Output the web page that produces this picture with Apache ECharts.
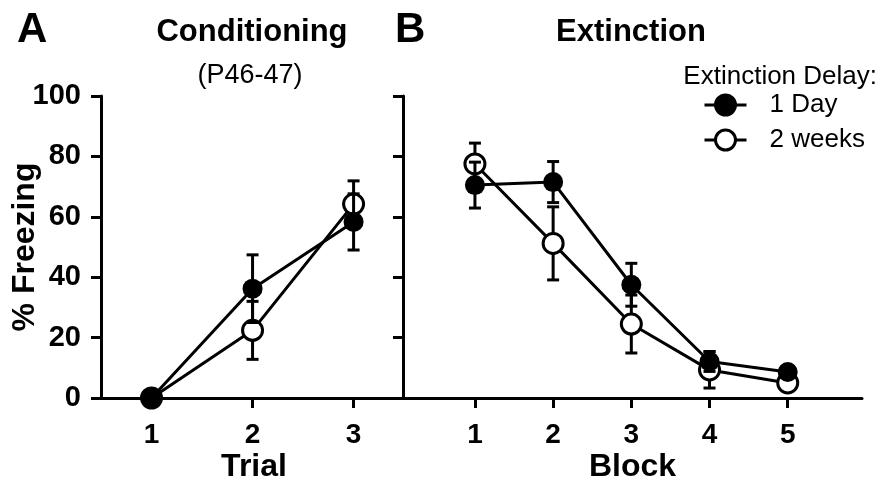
<!DOCTYPE html>
<html>
<head>
<meta charset="utf-8">
<script src="https://cdn.jsdelivr.net/npm/echarts@6/dist/echarts.min.js"></script>
<style>
  html, body { margin: 0; padding: 0; background: #fff; }
  #chart { width: 890px; height: 486px; }
</style>
</head>
<body>
<div id="chart"></div>
<script>
'use strict';
// data
const trials = [1, 2, 3];
const blocks = [1, 2, 3, 4, 5];
const yTicks = [0, 20, 40, 60, 80, 100];

const condDayMean = [0, 36.2, 58.3];
const condDaySem = [0, 11.2, 9.3];
const condWeeksMean = [0, 22.4, 64.2];
const condWeeksSem = [0, 9.6, 7.7];

const extDayMean = [70.5, 71.5, 37.5, 12.1, 8.6];
const extDaySem = [7.6, 6.8, 7.1, 3.3, 1.2];
const extWeeksMean = [77.5, 51.2, 24.5, 9.3, 5.0];
const extWeeksSem = [6.9, 12.1, 9.6, 6.0, 1.0];

const FONT = "'Liberation Sans', Arial, sans-serif";

function points(xs, ys) {
    return xs.map((x, i) => [x, ys[i]]);
}

function bars(xs, ys, sem) {
    return xs.map((x, i) => [x, ys[i] - sem[i], ys[i] + sem[i], sem[i]]);
}

function errorBarItem(params, api) {
    if (api.value(3) === 0) {
        return null;
    }
    const x = api.value(0);
    const lo = api.coord([x, api.value(1)]);
    const hi = api.coord([x, api.value(2)]);
    const half = 6;
    const style = { stroke: '#000', lineWidth: 3 };
    return {
        type: 'group',
        children: [
            { type: 'line', shape: { x1: lo[0], y1: lo[1], x2: hi[0], y2: hi[1] }, style: style },
            { type: 'line', shape: { x1: lo[0] - half, y1: lo[1], x2: lo[0] + half, y2: lo[1] }, style: style },
            { type: 'line', shape: { x1: hi[0] - half, y1: hi[1], x2: hi[0] + half, y2: hi[1] }, style: style },
        ],
    };
}

function xAxisOf(idx, min, max, ticks, name, namePad) {
    return {
        type: 'value',
        gridIndex: idx,
        min: min,
        max: max,
        name: name,
        nameLocation: 'middle',
        nameGap: 53,
        nameMoveOverlap: false,
        nameTextStyle: { fontFamily: FONT, fontSize: 32, fontWeight: 'bold', color: '#000', padding: namePad },
        axisLine: { show: true, lineStyle: { color: '#000', width: 3 } },
        axisTick: { show: true, length: 10, customValues: ticks, lineStyle: { width: 3 } },
        axisLabel: { customValues: ticks, margin: 23, fontFamily: FONT, fontSize: 28, fontWeight: 'bold', color: '#000' },
        splitLine: { show: false },
    };
}

function yAxisOf(idx, showLabel) {
    return {
        type: 'value',
        gridIndex: idx,
        min: 0,
        max: 100,
        interval: 20,
        name: showLabel ? '% Freezing' : '',
        nameLocation: 'middle',
        nameGap: 60,
        nameMoveOverlap: false,
        nameTextStyle: { fontFamily: FONT, fontSize: 32, fontWeight: 'bold', color: '#000' },
        axisLine: { show: true, lineStyle: { color: '#000', width: 3 } },
        axisTick: { show: true, length: 10, lineStyle: { width: 3 } },
        axisLabel: { show: showLabel, margin: 20, fontFamily: FONT, fontSize: 29, fontWeight: 'bold', color: '#000' },
        splitLine: { show: false },
    };
}

function lineSeries(name, idx, data, filled, z) {
    return {
        type: 'line',
        name: name,
        xAxisIndex: idx,
        yAxisIndex: idx,
        data: data,
        z: z,
        symbol: 'circle',
        symbolSize: 20,
        lineStyle: { color: '#000', width: 3 },
        itemStyle: filled
            ? { color: '#000', borderColor: '#000', borderWidth: 0 }
            : { color: '#fff', borderColor: '#000', borderWidth: 3 },
        emphasis: { disabled: true },
        animation: false,
    };
}

function errSeries(idx, data, z) {
    return {
        type: 'custom',
        name: 'err',
        xAxisIndex: idx,
        yAxisIndex: idx,
        data: data,
        z: z,
        renderItem: errorBarItem,
        encode: { x: 0, y: [1, 2] },
        animation: false,
    };
}

function init() {
    const chart = echarts.init(document.getElementById('chart'), null, { renderer: 'canvas' });
    const titleStyle = { fontFamily: FONT, fontWeight: 'bold', color: '#000' };
    const option = {
        backgroundColor: '#fff',
        animation: false,
        title: [
            { text: 'A', left: 17, top: 9, padding: 0, textStyle: Object.assign({ fontSize: 42 }, titleStyle) },
            { text: 'B', left: 395, top: 9, padding: 0, textStyle: Object.assign({ fontSize: 42 }, titleStyle) },
            { text: 'Conditioning', left: 252, top: 17, padding: 0, textAlign: 'center', textStyle: Object.assign({ fontSize: 31 }, titleStyle) },
            { text: 'Extinction', left: 631, top: 17, padding: 0, textAlign: 'center', textStyle: Object.assign({ fontSize: 31 }, titleStyle) },
            { text: '(P46-47)', left: 250, top: 62, padding: 0, textAlign: 'center', textStyle: { fontFamily: FONT, fontSize: 27, fontWeight: 'normal', color: '#000' } },
            { text: 'Extinction Delay:', left: 877, top: 64, padding: 0, textAlign: 'right', textStyle: { fontFamily: FONT, fontSize: 26, fontWeight: 'normal', color: '#000' } },
        ],
        legend: {
            data: ['1 Day', '2 weeks'],
            orient: 'vertical',
            left: 703,
            top: 92,
            padding: 0,
            itemWidth: 42,
            itemHeight: 25,
            itemGap: 9,
            lineStyle: { width: 3, color: '#000' },
            itemStyle: { borderWidth: 3, borderColor: '#000' },
            textStyle: { fontFamily: FONT, fontSize: 26, color: '#000', padding: [0, 0, 0, 18] },
            selectedMode: false,
        },
        grid: [
            { left: 101, top: 96, width: 293, height: 302, outerBoundsMode: 'none' },
            { left: 403, top: 96, width: 459, height: 302, outerBoundsMode: 'none' },
        ],
        xAxis: [
            xAxisOf(0, 0.5, 3.4, trials, 'Trial', [0, 0, 0, 13]),
            xAxisOf(1, 0.08, 5.95, blocks, 'Block', 0),
        ],
        yAxis: [yAxisOf(0, true), yAxisOf(1, false)],
        series: [
            errSeries(0, bars(trials, condWeeksMean, condWeeksSem), 1),
            lineSeries('2 weeks', 0, points(trials, condWeeksMean), false, 2),
            errSeries(0, bars(trials, condDayMean, condDaySem), 3),
            lineSeries('1 Day', 0, points(trials, condDayMean), true, 4),
            errSeries(1, bars(blocks, extWeeksMean, extWeeksSem), 1),
            lineSeries('2 weeks', 1, points(blocks, extWeeksMean), false, 2),
            errSeries(1, bars(blocks, extDayMean, extDaySem), 3),
            lineSeries('1 Day', 1, points(blocks, extDayMean), true, 4),
        ],
    };
    chart.setOption(option);
}

(function () {
    init();
})();
</script>
</body>
</html>
